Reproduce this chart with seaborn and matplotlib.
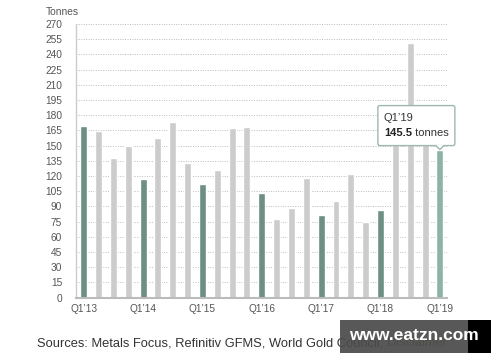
import matplotlib
matplotlib.use('Agg')
import matplotlib.pyplot as plt
import seaborn as sns
from matplotlib.patches import FancyBboxPatch, Polygon, Rectangle
from matplotlib.transforms import IdentityTransform

quarters = ["Q1’13", "Q2’13", "Q3’13", "Q4’13",
            "Q1’14", "Q2’14", "Q3’14", "Q4’14",
            "Q1’15", "Q2’15", "Q3’15", "Q4’15",
            "Q1’16", "Q2’16", "Q3’16", "Q4’16",
            "Q1’17", "Q2’17", "Q3’17", "Q4’17",
            "Q1’18", "Q2’18", "Q3’18", "Q4’18",
            "Q1’19"]
values = [169, 164, 137.5, 150,
          117, 157, 173, 133,
          112, 126, 167, 168,
          103, 78, 88, 118,
          81, 95, 122, 75,
          86, 157, 251, 157,
          145.5]
y_ticks = list(range(0, 271, 15))
highlight = "Q1’19"

DARK = "#6e8f83"
GREY = "#cccccc"
LIGHT = "#8db3a5"
palette = {q: (LIGHT if q == highlight else (DARK if q.startswith("Q1") else GREY)) for q in quarters}

sns.set_style("white")
plt.rcParams['font.family'] = ['Liberation Sans', 'DejaVu Sans']

fig = plt.figure(figsize=(5, 3.62), dpi=100)
ax = fig.add_axes([0.152, 0.178, 0.742, 0.756])

sns.barplot(x=quarters, y=values, hue=quarters, palette=palette, legend=False,
            width=0.47, ax=ax, saturation=1)

ax.set_ylim(0, 270)
ax.set_xlim(-0.52, len(quarters) - 0.52)
ax.set_yticks(y_ticks)
ax.set_yticklabels([str(t) for t in y_ticks])
q1_idx = [i for i, q in enumerate(quarters) if q.startswith("Q1")]
ax.set_xticks(q1_idx)
ax.set_xticklabels([quarters[i] for i in q1_idx])
ax.set_xlabel("")
ax.set_ylabel("")

ax.set_axisbelow(True)
ax.yaxis.grid(True, linestyle=(0, (1, 1.5)), color='#bbbbbb', linewidth=0.7)
ax.xaxis.grid(False)
for s in ['top', 'right']:
    ax.spines[s].set_visible(False)
ax.spines['left'].set_color('#cccccc')
ax.spines['left'].set_linewidth(1)
ax.spines['bottom'].set_color('#bbbbbb')
ax.spines['bottom'].set_linewidth(1.5)
ax.tick_params(axis='y', length=0, pad=10, labelsize=7.3, labelcolor='#555555')
ax.tick_params(axis='x', length=0, pad=4.5, labelsize=7.3, labelcolor='#555555')

fig.text(46 / 500, 1 - 12 / 362, "Tonnes", ha='left', va='center', fontsize=7.4, color='#555555')

# tooltip
hi = quarters.index(highlight)
px, py = ax.transData.transform((hi, values[hi]))
box = FancyBboxPatch((px - 62, py + 4.5), 77, 40, boxstyle="round,pad=0,rounding_size=2",
                     transform=IdentityTransform(), facecolor='white', edgecolor='#9db8ad',
                     linewidth=1, zorder=10)
fig.patches.append(box)
tri = Polygon([(px - 4, py + 5.2), (px + 4, py + 5.2), (px, py + 0.5)], closed=True,
              transform=IdentityTransform(), facecolor='white', edgecolor='none', zorder=11)
fig.patches.append(tri)
tri_edge1 = matplotlib.lines.Line2D([px - 4, px, px + 4], [py + 4.5, py + 0.5, py + 4.5],
                                    transform=IdentityTransform(), color='#9db8ad', lw=1, zorder=12)
fig.lines.append(tri_edge1)
fig.text(px - 56, py + 32, highlight, transform=IdentityTransform(), fontsize=8,
         color='#333333', va='center', ha='left', zorder=13)
t_val = fig.text(px - 56, py + 17, f"{values[hi]}", transform=IdentityTransform(), fontsize=8,
                 color='#222222', fontweight='bold', va='center', ha='left', zorder=13)
fig.canvas.draw()
bb = t_val.get_window_extent()
fig.text(bb.x1, py + 17, " tonnes", transform=IdentityTransform(), fontsize=8,
         color='#333333', va='center', ha='left', zorder=13)

# caption
cap = fig.text(36.7 / 500, 1 - 343 / 362, "Sources: Metals Focus, Refinitiv GFMS, World Gold Council, ",
               fontsize=9.3, color='#333333', va='center', ha='left')
fig.canvas.draw()
cb = cap.get_window_extent()
fig.text(cb.x1, (cb.y0 + cb.y1) / 2, "Disclaimer", transform=IdentityTransform(), fontsize=9.3,
         color='#8a6d3b', va='center', ha='left')

# watermark overlay
fig.patches.append(Rectangle((340 / 500, 1 - 353 / 362), 128 / 500, 33 / 362,
                             transform=fig.transFigure, facecolor='#4a4a4a', alpha=0.92,
                             edgecolor='none', zorder=20))
fig.patches.append(Rectangle((468 / 500, 1 - 353 / 362), 23 / 500, 33 / 362,
                             transform=fig.transFigure, facecolor='black',
                             edgecolor='none', zorder=20))
fig.text(414 / 500, 1 - 336 / 362, "www.eatzn.com", fontsize=12.5, fontweight='bold',
         color='white', ha='center', va='center', zorder=21)

fig.savefig("out.png", dpi=100)
